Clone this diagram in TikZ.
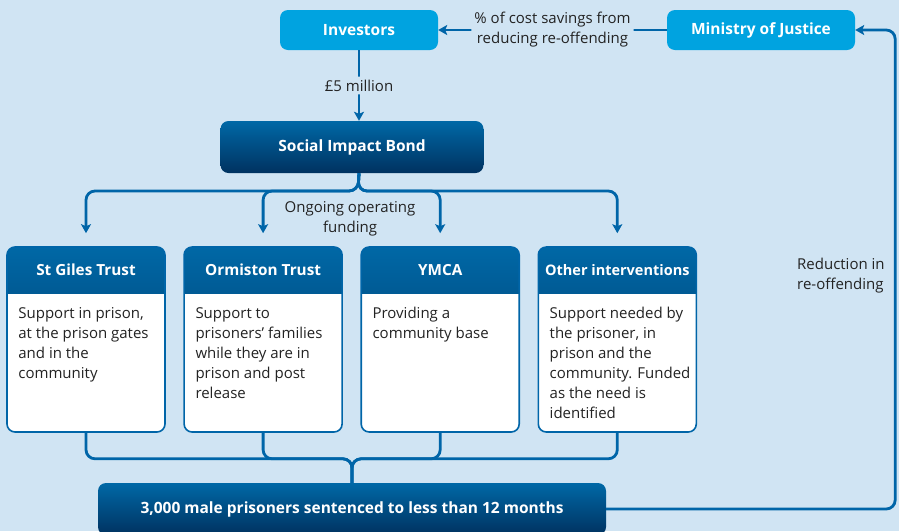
\documentclass[tikz,border=0pt]{standalone}
\usepackage{fontspec}
\setmainfont{Open Sans}
\usetikzlibrary{positioning,arrows.meta}

\definecolor{bgblue}{RGB}{208,228,243}
\definecolor{skyblue}{RGB}{0,163,224}
\definecolor{lineblue}{RGB}{0,101,168}
\definecolor{shadetop}{RGB}{0,104,166}
\definecolor{shadebot}{RGB}{0,50,96}
\definecolor{inkgrey}{RGB}{35,35,35}

\begin{document}
\begin{tikzpicture}[x=1pt, y=-1pt,
    link/.style={draw=lineblue, line width=2.8pt, rounded corners=9pt},
    tip/.style={-{Stealth[length=9pt, width=10pt, inset=2pt]}},
    lbl/.style={fill=bgblue, inner sep=3pt, text=inkgrey, align=center, font=\fontsize{15}{20}\selectfont},
    topbox/.style={rectangle, rounded corners=8pt, fill=skyblue, text=white, minimum height=40pt, font=\fontsize{15.5}{18}\selectfont\bfseries},
    darkbox/.style={rectangle, rounded corners=8pt, top color=shadetop, bottom color=shadebot, text=white, minimum height=52pt, font=\fontsize{15.5}{18}\selectfont\bfseries},
    card/.style={rectangle, rounded corners=8pt, draw=lineblue, line width=1.6pt, fill=white, minimum width=158pt, minimum height=185pt,
        path picture={\shade[sharp corners, top color=shadetop, bottom color=shadebot] (path picture bounding box.north west) rectangle ([yshift=-46pt]path picture bounding box.north east);}},
    cardhead/.style={text=white, inner sep=0pt, font=\fontsize{15.3}{18}\selectfont\bfseries},
    cardtext/.style={anchor=north west, inner sep=0pt, align=left, text=inkgrey, font=\fontsize{15}{20}\selectfont}]

\path[use as bounding box, fill=bgblue] (0,0) rectangle (899,531);

\node (inv) [topbox, minimum width=158pt] at (359,30) {Investors};
\node (moj) [topbox, minimum width=188pt] at (761,30) {Ministry of Justice};
\node (sib) [darkbox, minimum width=263pt] at (352,147) {Social Impact Bond};

\node (giles) [card] at (86,339.5) {};
\node (orm) [card, right=17.5pt of giles] {};
\node (ymca) [card, right=17.5pt of orm] {};
\node (other) [card, right=17.5pt of ymca] {};

\node (gilesHead) [cardhead] at ([yshift=-24pt]giles.north) {St Giles Trust};
\node (ormHead) [cardhead] at ([yshift=-24pt]orm.north) {Ormiston Trust};
\node (ymcaHead) [cardhead] at ([yshift=-24pt]ymca.north) {YMCA};
\node (otherHead) [cardhead, font=\fontsize{14.5}{18}\selectfont\bfseries] at ([yshift=-24pt]other.north) {Other interventions};

\node (gilesText) [cardtext] at ([xshift=12pt, yshift=-61pt]giles.north west) {Support in prison,\\at the prison gates\\and in the\\community};
\node (ormText) [cardtext] at ([xshift=12pt, yshift=-61pt]orm.north west) {Support to\\prisoners’ families\\while they are in\\prison and post\\release};
\node (ymcaText) [cardtext] at ([xshift=12pt, yshift=-61pt]ymca.north west) {Providing a\\community base};
\node (otherText) [cardtext] at ([xshift=12pt, yshift=-61pt]other.north west) {Support needed by\\the prisoner, in\\prison and the\\community. Funded\\as the need is\\identified};

\node (prisoners) [darkbox, minimum width=508pt] at (352,509) {3,000 male prisoners sentenced to less than 12 months};

\node (funding) [lbl, fill=none] at (350,219) {Ongoing operating\\funding};
\node (reduction) [lbl, fill=none, inner sep=0pt, anchor=north west, align=left] at (797,258) {Reduction in\\re-offending};

\coordinate (fork) at (358,191);
\coordinate (merge) at ([yshift=24pt]prisoners.north);

\draw[link, tip] (moj.west) -- node[lbl] {\% of cost savings from\\reducing re-offending} (inv.east);
\draw[link, tip] (inv.south) -- node[lbl] {£5 million} (inv.south |- sib.north);

\foreach \c in {giles, orm, ymca, other}
    \draw[link, tip] (inv.south |- sib.south) -- (fork) -| ([yshift=13pt]\c.north);

\foreach \c in {giles, orm, ymca, other}
    \draw[link] (\c.south) |- (merge) -- (prisoners.north);

\draw[link, tip] (prisoners.east) -| ([xshift=40pt]moj.east) -- (moj.east);

\end{tikzpicture}
\end{document}
